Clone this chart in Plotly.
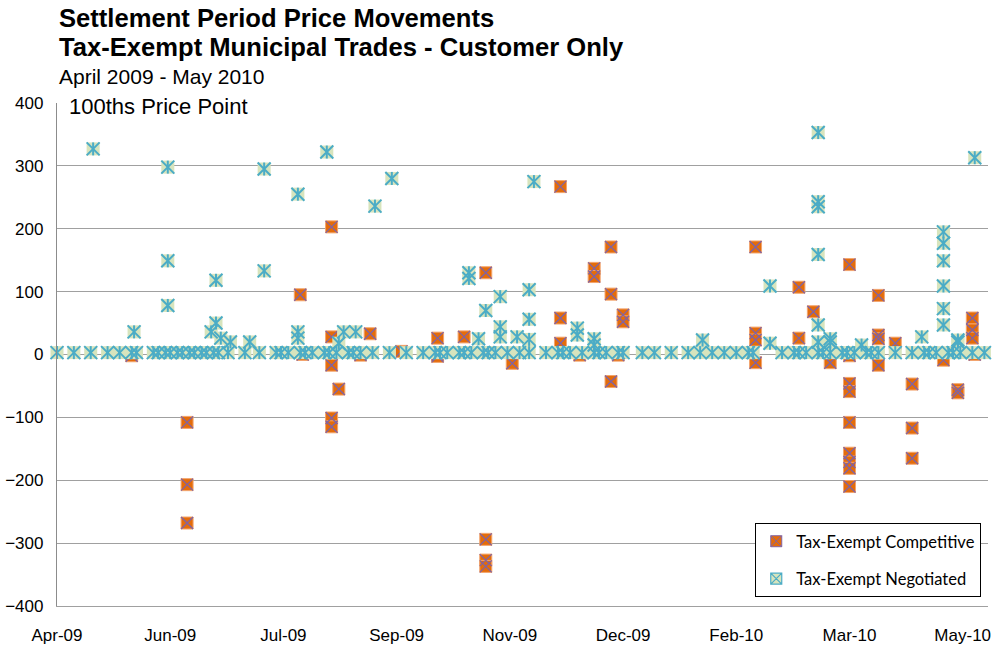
import plotly.graph_objects as go

# ---------------- data ----------------
title_line1 = "Settlement Period Price Movements"
title_line2 = "Tax-Exempt Municipal Trades - Customer Only"
title_line3 = "April 2009 - May 2010"
y_label = "100ths Price Point"

tick_dates = ["2009-04-27", "2009-06-13", "2009-07-30", "2009-09-15", "2009-11-01",
              "2009-12-18", "2010-02-03", "2010-03-22", "2010-05-08"]
tick_labels = ["Apr-09", "Jun-09", "Jul-09", "Sep-09", "Nov-09",
               "Dec-09", "Feb-10", "Mar-10", "May-10"]

series_names = ["Tax-Exempt Competitive", "Tax-Exempt Negotiated"]

# Tax-Exempt Competitive: outlying trades
comp_out_dates = [
    "2009-06-20", "2009-06-20", "2009-06-20",
    "2009-08-06",
    "2009-08-19", "2009-08-19", "2009-08-19", "2009-08-19", "2009-08-19",
    "2009-08-22",
    "2009-09-04",
    "2009-09-17",
    "2009-10-02", "2009-10-02",
    "2009-10-13",
    "2009-10-22", "2009-10-22", "2009-10-22", "2009-10-22",
    "2009-11-02",
    "2009-11-22", "2009-11-22", "2009-11-22",
    "2009-12-06", "2009-12-06",
    "2009-12-13", "2009-12-13", "2009-12-13",
    "2009-12-18", "2009-12-18",
    "2010-02-11", "2010-02-11", "2010-02-11", "2010-02-11",
    "2010-03-01", "2010-03-01",
    "2010-03-07",
    "2010-03-14",
    "2010-03-22", "2010-03-22", "2010-03-22", "2010-03-22",
    "2010-03-22", "2010-03-22", "2010-03-22", "2010-03-22",
    "2010-04-03", "2010-04-03", "2010-04-03", "2010-04-03",
    "2010-04-10",
    "2010-04-17", "2010-04-17", "2010-04-17",
    "2010-04-30",
    "2010-05-06", "2010-05-06",
    "2010-05-12", "2010-05-12", "2010-05-12",
]
comp_out_values = [
    -108, -207, -268,
    95,
    203, 28, -17, -101, -115,
    -55,
    33,
    5,
    26, -3,
    28,
    130, -294, -327, -337,
    -14,
    267, 58, 18,
    137, 124,
    171, 96, -43,
    63, 52,
    171, 34, 23, -13,
    107, 26,
    68,
    -13,
    143, -46, -59, -108, -157, -171, -181, -210,
    94, 31, 25, -17,
    18,
    -47, -117, -165,
    -9,
    -56, -61,
    58, 39, 26,
]
# Tax-Exempt Competitive: trades near zero
comp_zero_dates = ["2009-05-28", "2009-08-07", "2009-08-31", "2009-10-02", "2009-11-30",
                   "2009-12-16", "2010-03-22", "2010-05-13"]
comp_zero_values = [-2, 0, -1, 0, -1, -1, -2, 0]

# Tax-Exempt Negotiated: outlying trades
neg_out_dates = [
    "2009-05-12",
    "2009-05-29",
    "2009-06-12", "2009-06-12", "2009-06-12",
    "2009-06-30",
    "2009-07-02", "2009-07-02",
    "2009-07-04",
    "2009-07-08",
    "2009-07-16",
    "2009-07-22", "2009-07-22",
    "2009-08-05", "2009-08-05", "2009-08-05",
    "2009-08-17",
    "2009-08-22",
    "2009-08-24",
    "2009-08-29",
    "2009-09-06",
    "2009-09-13",
    "2009-10-15", "2009-10-15",
    "2009-10-19",
    "2009-10-22",
    "2009-10-28", "2009-10-28", "2009-10-28",
    "2009-11-04",
    "2009-11-09", "2009-11-09", "2009-11-09",
    "2009-11-11",
    "2009-11-29", "2009-11-29",
    "2009-12-06", "2009-12-06",
    "2010-01-20",
    "2010-02-17", "2010-02-17",
    "2010-03-09", "2010-03-09", "2010-03-09", "2010-03-09", "2010-03-09", "2010-03-09",
    "2010-03-14", "2010-03-14",
    "2010-03-27",
    "2010-04-21",
    "2010-04-30", "2010-04-30", "2010-04-30", "2010-04-30", "2010-04-30", "2010-04-30",
    "2010-05-06", "2010-05-06",
    "2010-05-13",
]
neg_out_values = [
    327,
    36,
    298, 149, 78,
    36,
    118, 50,
    26,
    20,
    20,
    295, 133,
    255, 36, 26,
    322,
    18,
    36,
    36,
    236,
    280,
    130, 121,
    25,
    70,
    92, 44, 28,
    28,
    103, 56, 24,
    275,
    31, 42,
    15, 25,
    23,
    109, 18,
    353, 243, 235, 159, 47, 20,
    20, 25,
    15,
    28,
    195, 177, 149, 109, 73, 47,
    23, 20,
    313,
]
# Tax-Exempt Negotiated: trades near zero
neg_zero_dates = [
    "2009-04-27", "2009-05-04", "2009-05-11", "2009-05-18", "2009-05-23", "2009-05-28",
    "2009-05-30", "2009-06-06", "2009-06-08", "2009-06-11", "2009-06-13", "2009-06-16",
    "2009-06-18", "2009-06-21", "2009-06-23", "2009-06-26", "2009-06-28", "2009-07-01",
    "2009-07-03", "2009-07-07", "2009-07-14", "2009-07-20", "2009-07-27", "2009-07-29",
    "2009-08-01", "2009-08-06", "2009-08-08", "2009-08-11", "2009-08-16", "2009-08-18",
    "2009-08-21", "2009-08-26", "2009-08-28", "2009-08-31", "2009-09-05", "2009-09-12",
    "2009-09-19", "2009-09-26", "2009-10-01", "2009-10-03", "2009-10-06", "2009-10-11",
    "2009-10-13", "2009-10-16", "2009-10-21", "2009-10-23", "2009-10-26", "2009-10-31",
    "2009-11-05", "2009-11-09", "2009-11-16", "2009-11-21", "2009-11-23", "2009-11-26",
    "2009-12-01", "2009-12-06", "2009-12-08", "2009-12-11", "2009-12-16", "2009-12-18",
    "2009-12-26", "2009-12-31", "2010-01-07", "2010-01-14", "2010-01-19", "2010-01-24",
    "2010-01-29", "2010-02-03", "2010-02-08", "2010-02-10", "2010-02-22", "2010-02-27",
    "2010-03-01", "2010-03-04", "2010-03-09", "2010-03-11", "2010-03-14", "2010-03-19",
    "2010-03-21", "2010-03-24", "2010-03-29", "2010-03-31", "2010-04-03", "2010-04-10",
    "2010-04-17", "2010-04-22", "2010-04-24", "2010-04-27", "2010-05-02", "2010-05-04",
    "2010-05-07", "2010-05-12", "2010-05-17",
]
neg_zero_values = [
    3, 3, 3, 3, 3, 3,
    3, 3, 3, 3, 3, 3,
    3, 3, 3, 3, 3, 3,
    3, 3, 3, 3, 3, 3,
    3, 3, 3, 3, 3, 3,
    3, 3, 3, 3, 3, 3,
    3, 3, 3, 3, 3, 3,
    3, 3, 3, 3, 3, 3,
    3, 3, 3, 3, 3, 3,
    3, 3, 3, 3, 3, 3,
    3, 3, 3, 3, 3, 3,
    3, 3, 3, 3, 3, 3,
    3, 3, 3, 3, 3, 3,
    3, 3, 3, 3, 3, 3,
    3, 3, 3, 3, 3, 3,
    3, 3, 3,
]

# ---------------- styling ----------------
ORANGE = "#E46C0A"
ORANGE_RIM = "#F2A46E"
PURPLE = "#7F63A6"
GREEN = "#D7E4BD"
TEAL = "#4BACC6"
GRID = "#A0A0A0"
FONT = "Liberation Sans, Arial, sans-serif"

comp_x = comp_zero_dates + comp_out_dates
comp_y = comp_zero_values + comp_out_values
neg_x = neg_zero_dates + neg_out_dates
neg_y = neg_zero_values + neg_out_values

fig = go.Figure()

# Competitive: orange square + purple X
fig.add_trace(go.Scatter(x=comp_x, y=comp_y, mode="markers", showlegend=False,
                         cliponaxis=False, hoverinfo="skip",
                         marker=dict(symbol="square", size=12, color=ORANGE,
                                     line=dict(color=ORANGE_RIM, width=1))))
fig.add_trace(go.Scatter(x=comp_x, y=comp_y, mode="markers", showlegend=False,
                         cliponaxis=False, hoverinfo="skip",
                         marker=dict(symbol="x-thin-open", size=12, color=PURPLE,
                                     line=dict(color=PURPLE, width=1.3))))
# Negotiated: pale green square + teal star
fig.add_trace(go.Scatter(x=neg_x, y=neg_y, mode="markers", showlegend=False,
                         cliponaxis=False, hoverinfo="skip",
                         marker=dict(symbol="square", size=13, color=GREEN,
                                     line=dict(width=0))))
fig.add_trace(go.Scatter(x=neg_x, y=neg_y, mode="markers", showlegend=False,
                         cliponaxis=False, hoverinfo="skip",
                         marker=dict(symbol="x-thin-open", size=13, color=TEAL,
                                     line=dict(color=TEAL, width=2))))
fig.add_trace(go.Scatter(x=neg_x, y=neg_y, mode="markers", showlegend=False,
                         cliponaxis=False, hoverinfo="skip",
                         marker=dict(symbol="line-ns-open", size=9.3, color=TEAL,
                                     line=dict(color=TEAL, width=2))))

# legend entries
fig.add_trace(go.Scatter(x=[None], y=[None], mode="markers", name=series_names[0],
                         legendgroup="c",
                         marker=dict(symbol="square-x", size=11, color=ORANGE,
                                     line=dict(color=PURPLE, width=1))))
fig.add_trace(go.Scatter(x=[None], y=[None], mode="markers", name=series_names[1],
                         legendgroup="n",
                         marker=dict(symbol="square-x", size=11, color=GREEN,
                                     line=dict(color=TEAL, width=1.2))))

fig.update_layout(
    width=995, height=647, autosize=False,
    margin=dict(l=57, r=7, t=103, b=41, pad=0),
    paper_bgcolor="white", plot_bgcolor="white",
    font=dict(family=FONT, size=17, color="black"),
    showlegend=True,
    legend=dict(x=0.75, y=(606 - 523) / 503, xanchor="left", yanchor="top",
                bgcolor="white", bordercolor="#000000", borderwidth=1,
                font=dict(family="Lato, sans-serif", size=16.5, color="black"),
                tracegroupgap=13, itemsizing="trace"),
    xaxis=dict(type="date", range=["2009-04-27", "2010-05-18 12:00"],
               tickmode="array", tickvals=tick_dates, ticktext=tick_labels,
               showgrid=False, zeroline=False, showline=True, linecolor=GRID,
               linewidth=1.3, ticks="", ticklabelstandoff=13, automargin=False,
               tickfont=dict(family=FONT, size=17, color="black")),
    yaxis=dict(range=[-400, 400], tickmode="linear", tick0=0, dtick=100,
               showgrid=True, gridcolor=GRID, gridwidth=1.3, automargin=False,
               zeroline=False, showline=True, linecolor="#8C8C8C", linewidth=1.3,
               ticks="", ticklabelstandoff=9,
               tickfont=dict(family=FONT, size=17, color="black")),
)

fig.add_annotation(text="<b>" + title_line1 + "</b>", xref="paper", yref="paper",
                   x=0, y=(606 - 2) / 503, xanchor="left", yanchor="top",
                   showarrow=False, font=dict(family=FONT, size=25.6, color="black"))
fig.add_annotation(text="<b>" + title_line2 + "</b>", xref="paper", yref="paper",
                   x=0, y=(606 - 31) / 503, xanchor="left", yanchor="top",
                   showarrow=False, font=dict(family=FONT, size=25.6, color="black"))
fig.add_annotation(text=title_line3, xref="paper", yref="paper",
                   x=0, y=(606 - 63) / 503, xanchor="left", yanchor="top",
                   showarrow=False, font=dict(family=FONT, size=21, color="black"))
fig.add_annotation(text=y_label, xref="paper", yref="paper",
                   x=(66 - 57) / 931, y=1, xanchor="left", yanchor="middle", yshift=-3,
                   showarrow=False, bgcolor="white", borderpad=2,
                   font=dict(family=FONT, size=22, color="black"))

fig.write_html("out.html", config={"displayModeBar": False},
               post_script="document.body.style.margin='0px';document.body.style.overflow='hidden';")
